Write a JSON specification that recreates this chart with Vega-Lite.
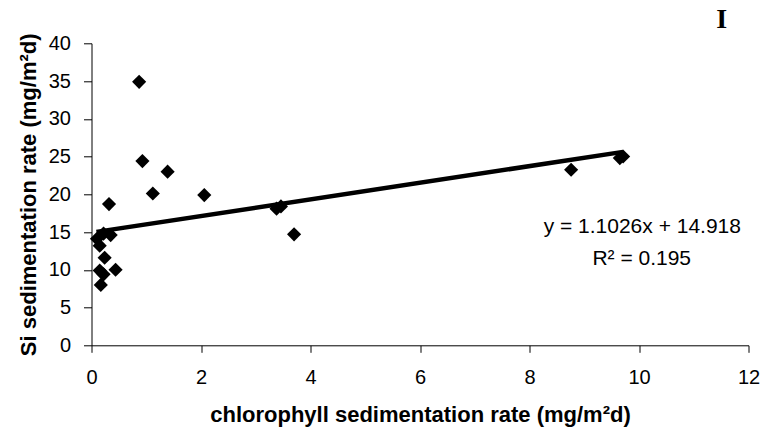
{
  "$schema": "https://vega.github.io/schema/vega-lite/v6.json",
  "width": 657,
  "height": 302,
  "autosize": {"type": "none"},
  "padding": {"left": 91.5, "top": 43.3, "right": 16.5, "bottom": 94.7},
  "background": "white",
  "config": {"view": {"stroke": null}, "font": "Liberation Sans"},
  "datasets": {
    "pts": [
      {"x": 0.87, "y": 34.9},
      {"x": 0.93, "y": 24.4},
      {"x": 1.39, "y": 23.0},
      {"x": 1.12, "y": 20.1},
      {"x": 2.06, "y": 19.9},
      {"x": 0.32, "y": 18.7},
      {"x": 3.38, "y": 18.1},
      {"x": 3.46, "y": 18.4},
      {"x": 3.70, "y": 14.7},
      {"x": 0.35, "y": 14.6},
      {"x": 0.22, "y": 14.8},
      {"x": 0.1, "y": 14.1},
      {"x": 0.15, "y": 13.2},
      {"x": 0.24, "y": 11.6},
      {"x": 0.15, "y": 9.9},
      {"x": 0.22, "y": 9.4},
      {"x": 0.44, "y": 10.0},
      {"x": 0.17, "y": 8.0},
      {"x": 8.76, "y": 23.25},
      {"x": 9.65, "y": 24.8},
      {"x": 9.71, "y": 25.0}
    ],
    "fit": [
      {"x": 0.09, "y": 15.02},
      {"x": 9.71, "y": 25.62}
    ],
    "notes": [
      {"x": 10.06, "y": 15.67, "t": "y = 1.1026x + 14.918"},
      {"x": 10.05, "y": 11.46, "t": "R² = 0.195"}
    ],
    "tag": [
      {"x": 11.51, "y": 43.1, "t": "I"}
    ]
  },
  "encoding": {
    "x": {
      "field": "x", "type": "quantitative",
      "scale": {"domain": [0, 12], "nice": false, "zero": true},
      "axis": {
        "title": "chlorophyll sedimentation rate (mg/m²d)",
        "values": [0, 2, 4, 6, 8, 10, 12],
        "format": "d",
        "grid": false, "labelOverlap": false, "labelFlush": false,
        "domainColor": "black", "tickColor": "black",
        "tickSize": 7, "labelPadding": 15,
        "labelFontSize": 20, "labelColor": "black", "labelFont": "Liberation Sans",
        "titleFontSize": 22, "titleFontWeight": "bold", "titleColor": "black", "titleFont": "Liberation Sans",
        "titlePadding": 17
      }
    },
    "y": {
      "field": "y", "type": "quantitative",
      "scale": {"domain": [0, 40], "nice": false},
      "axis": {
        "title": "Si sedimentation rate (mg/m²d)",
        "values": [0, 5, 10, 15, 20, 25, 30, 35, 40],
        "grid": false, "labelOverlap": false, "labelFlush": false,
        "domainColor": "black", "tickColor": "black",
        "tickSize": 8, "labelPadding": 13,
        "labelFontSize": 20, "labelColor": "black", "labelFont": "Liberation Sans",
        "titleFontSize": 22, "titleFontWeight": "bold", "titleColor": "black", "titleFont": "Liberation Sans",
        "titlePadding": 8
      }
    }
  },
  "layer": [
    {
      "data": {"name": "fit"},
      "mark": {"type": "line", "color": "black", "strokeWidth": 4.5}
    },
    {
      "data": {"name": "pts"},
      "mark": {"type": "point", "shape": "diamond", "filled": true, "color": "black", "opacity": 1, "size": 200}
    },
    {
      "data": {"name": "notes"},
      "mark": {"type": "text", "fontSize": 21, "color": "black", "align": "center", "baseline": "middle", "font": "Liberation Sans"},
      "encoding": {"text": {"field": "t"}}
    },
    {
      "data": {"name": "tag"},
      "mark": {"type": "text", "fontSize": 28, "fontWeight": "bold", "color": "black", "align": "center", "baseline": "middle", "font": "Liberation Serif"},
      "encoding": {"text": {"field": "t"}}
    }
  ]
}
